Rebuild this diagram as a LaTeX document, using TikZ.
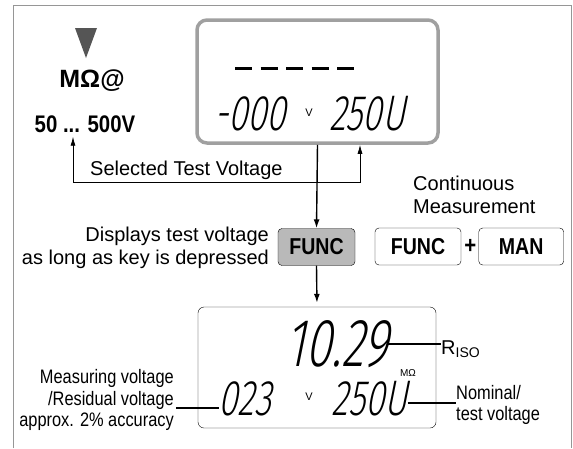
\documentclass[tikz,border=0pt]{standalone}
\usepackage{fontspec}
\setmainfont{Liberation Sans}
\newfontfamily\condfont[FakeStretch=0.84]{Liberation Sans}
\newfontfamily\keyfont[FakeStretch=0.85]{Liberation Sans}
\newfontfamily\segfont[FakeSlant=0.2,FakeStretch=0.7]{Fira Sans Light}
\usetikzlibrary{arrows.meta,positioning,calc}
\definecolor{framegray}{RGB}{150,150,150}
\definecolor{lcdgray}{RGB}{160,160,160}
\definecolor{keygray}{RGB}{185,185,185}
\definecolor{markgray}{RGB}{85,85,85}

\begin{document}
\begin{tikzpicture}[
    x=1pt, y=-1pt,
    lcdframe/.style={rectangle, draw=lcdgray, line width=3.5pt, rounded corners=10pt, minimum width=241pt, minimum height=123pt},
    lcdpanel/.style={rectangle, draw, thin, rounded corners=6pt, minimum width=238pt, minimum height=121pt},
    digits/.style={inner sep=0pt, font=\segfont\fontsize{50}{50}\selectfont},
    bigdigits/.style={inner sep=0pt, font=\segfont\fontsize{68}{68}\selectfont},
    unit/.style={inner sep=0pt, font=\fontsize{11}{11}\selectfont},
    key/.style={rectangle, draw, rounded corners=4pt, minimum height=37pt, inner sep=0pt, font=\keyfont\bfseries\fontsize{23}{23}\selectfont},
    title/.style={inner sep=0pt, font=\keyfont\bfseries\fontsize{24}{24}\selectfont},
    note/.style={inner sep=0pt, font=\fontsize{20}{23}\selectfont},
    condnote/.style={inner sep=0pt, font=\condfont\fontsize{19.5}{21.5}\selectfont},
    flow/.style={-{Latex[length=9pt,width=6pt]}, line width=1.4pt},
    pointer/.style={{Latex[length=9pt,width=5pt]}-{Latex[length=9pt,width=5pt]}, line width=0.8pt},
    leader/.style={line width=1.2pt},
]
\useasboundingbox (0,0) rectangle (573,448);
\draw[framegray, line width=1pt] (13,448) -- (13,5) -- (571,5) -- (571,448);

% range selection
\fill[markgray] (75,28) -- (97,28) -- (86,58) -- cycle;
\node[title, font=\bfseries\fontsize{25}{25}\selectfont] (mohm) at (92,81) {MΩ@};
\node[title] (range) at (85,124) {50 ... 500V};

% display while FUNC is held
\node[lcdframe] (lcdtop) at (317.5,81.5) {};
\draw[line width=3pt, dash pattern=on 17pt off 8.5pt] (235,68) -- (355,68);
\node[digits] (dignull) at (250,114) {-000};
\node[unit] (unittop) at (309,113) {V};
\node[digits] (digtest) at (367,114) {250U};
\node[note, anchor=west] (seltext) at (90,170) {Selected Test Voltage};

% keys
\node[key, fill=keygray, minimum width=77pt] (funcon) at (316.5,247) {FUNC};
\node[note, align=right, anchor=east] (hold) at (269,248) {Displays test voltage\\as long as key is depressed};
\node[note, align=left, anchor=west] (cont) at (413,195) {Continuous\\Measurement};
\node[key, minimum width=86pt] (funckey) at (418,246.5) {FUNC};
\node[title, right=3pt of funckey] (plus) {+};
\node[key, minimum width=85pt, right=2pt of plus] (mankey) {MAN};

% measuring display
\node[lcdpanel] (lcdbot) at (317,367.5) {};
\node[bigdigits] (digriso) at (337,344) {10.29};
\node[unit, font=\fontsize{10}{10}\selectfont] (unitmohm) at (408,373) {MΩ};
\node[digits] (digmeas) at (245,399) {023};
\node[unit] (unitbot) at (309,397) {V};
\node[digits] (dignom) at (369.5,399) {250U};
\node[condnote, align=right, anchor=east] (meas) at (174,400) {Measuring voltage\\/Residual voltage\\approx. 2\% accuracy};
\node[note, anchor=west] (riso) at (441,349) {R\textsubscript{ISO}};
\node[condnote, align=left, anchor=west] (nominal) at (456,405) {Nominal/\\test voltage};

\coordinate (selbend) at (360,182);
\draw[pointer] ([xshift=-12pt,yshift=-4pt]range.south) |- (selbend) -- (selbend |- lcdtop.south);
\draw[flow] (lcdtop.south) -- (funcon.north);
\draw[flow, shorten >=4pt] (funcon.south) -- (lcdbot.north);
\draw[leader] ([xshift=2pt,yshift=-8pt]meas.east) -- ([yshift=-8pt]meas.east -| digmeas.west);
\draw[leader] (digriso.east) -- (digriso.east -| riso.west);
\draw[leader] ([yshift=-4pt]dignom.east) -- ([yshift=-4pt]dignom.east -| nominal.west);
\end{tikzpicture}
\end{document}
